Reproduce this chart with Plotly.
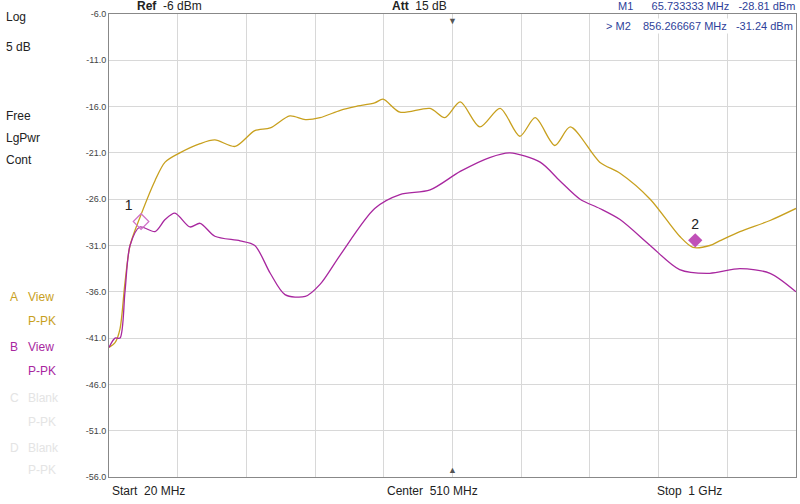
import plotly.graph_objects as go

# frequencies in MHz, levels in dBm
freq_a = [20, 28.6, 35.7, 42.8, 50, 64, 85.6, 100, 121, 150, 171, 200, 228, 250, 278, 300, 321, 350, 371,
          399, 411, 435, 478, 499, 521, 549, 578, 606, 628, 656, 678, 720, 749, 792, 834, 853, 877, 891, 920, 963, 1000]
level_a = [-42, -41.5, -40, -35, -31, -28, -24, -22, -21, -20, -19.6, -20.3, -18.6, -18.3, -17, -17.4, -17.2,
           -16.4, -16, -15.6, -15.2, -16.6, -16.2, -17.2, -15.5, -18.2, -16.2, -19.2, -17.2, -20.2, -18.2,
           -22, -23.2, -26, -30, -31.2, -31, -30.5, -29.5, -28.3, -27]
freq_b = [20, 28.6, 35.7, 42.8, 50, 64, 85.6, 100, 114, 135.5, 150, 171, 207, 228, 250, 271, 300, 321, 350,
          399, 435, 478, 521, 563, 592, 635, 663, 692, 720, 749, 792, 834, 877, 920, 963, 1000]
level_b = [-42, -41, -41, -36, -31, -29, -29.5, -28.2, -27.5, -29, -28.6, -30, -30.5, -31, -34, -36.3, -36.5,
           -35.2, -32, -27, -25.5, -25, -23, -21.5, -21, -22, -24, -26, -27, -28.2, -31, -33.6, -34, -33.5,
           -34, -36]
m1 = (65.733333, -28.81)
m2 = (856.266667, -31.24)
y_ticks = [-6 - 5 * i for i in range(11)]

yel = "#c8a01e"
mag = "#a8279f"
W, H = 800, 504
PW, PH, L, T = 687, 463, 109, 14

fig = go.Figure()
fig.add_trace(go.Scatter(x=freq_a, y=level_a, mode="lines", line=dict(color=yel, width=1.3, shape="spline", smoothing=0.8)))
fig.add_trace(go.Scatter(x=freq_b, y=level_b, mode="lines", line=dict(color=mag, width=1.3, shape="spline", smoothing=0.8)))
fig.add_trace(go.Scatter(x=[m1[0]], y=[m1[1] + 0.4], mode="markers+text", text=["1"], textposition="top left",
                         textfont=dict(size=14, color="#222"),
                         marker=dict(symbol="diamond-open", size=12, color="#d070c8", line=dict(width=1.2))))
fig.add_trace(go.Scatter(x=[m2[0]], y=[m2[1] + 0.8], mode="markers+text", text=["2"], textposition="top center",
                         textfont=dict(size=14, color="#222"),
                         marker=dict(symbol="diamond", size=11, color="#c050b8")))

fig.update_layout(
    width=W, height=H, showlegend=False, paper_bgcolor="white", plot_bgcolor="white",
    margin=dict(l=L, r=W - L - PW, t=T, b=H - T - PH, autoexpand=False),
    font=dict(family="Liberation Sans", size=12, color="#222"),
    xaxis=dict(range=[20, 1000], tickvals=[20 + 98 * i for i in range(11)], showticklabels=False,
               showgrid=True, gridcolor="#d8d8d8", zeroline=False, showline=True, linecolor="#888", mirror=True),
    yaxis=dict(range=[-56, -6], tickvals=y_ticks, ticktext=[f"{v:.1f}" for v in y_ticks],
               tickfont=dict(size=9, color="#444"), showgrid=True, gridcolor="#d8d8d8", zeroline=False,
               showline=True, linecolor="#888", mirror=True),
)

def px(x):
    return (x - L) / PW

def py(y):
    return 1 - (y - T) / PH

left = [("Log", 17), ("5 dB", 47), ("Free", 116), ("LgPwr", 138), ("Cont", 160)]
for txt, y in left:
    fig.add_annotation(text=txt, x=px(4), y=py(y), xref="paper", yref="paper", xanchor="left", yanchor="middle",
                       showarrow=False, font=dict(size=12, color="#222"))
side = [("A", "View", 297, yel), ("", "P-PK", 321, yel), ("B", "View", 347, mag),
        ("", "P-PK", 371, mag), ("C", "Blank", 398, "#e4e4e4"), ("", "P-PK", 422, "#e4e4e4"),
        ("D", "Blank", 448, "#e4e4e4"), ("", "P-PK", 470, "#e4e4e4")]
for letter, txt, y, c in side:
    if letter:
        fig.add_annotation(text=letter, x=px(8), y=py(y), xref="paper", yref="paper", xanchor="left",
                           yanchor="middle", showarrow=False, font=dict(size=12, color=c))
    fig.add_annotation(text=txt, x=px(26), y=py(y), xref="paper", yref="paper", xanchor="left",
                       yanchor="middle", showarrow=False, font=dict(size=12, color=c))

fig.add_annotation(text="<b>Ref</b>  -6 dBm", x=px(135), y=py(6), xref="paper", yref="paper", xanchor="left",
                   yanchor="middle", showarrow=False)
fig.add_annotation(text="<b>Att</b>  15 dB", x=px(390), y=py(6), xref="paper", yref="paper", xanchor="left",
                   yanchor="middle", showarrow=False)
blue = "#2e3f9a"
fig.add_annotation(text="M1      65.733333 MHz   -28.81 dBm", x=px(797), y=py(6), xref="paper", yref="paper",
                   xanchor="right", yanchor="middle", showarrow=False, font=dict(size=11, color=blue))
fig.add_annotation(text="> M2    856.266667 MHz   -31.24 dBm", x=px(795), y=py(26), xref="paper", yref="paper",
                   xanchor="right", yanchor="middle", showarrow=False, font=dict(size=11, color=blue),
                   bgcolor="white")

bottom = [("Start  20 MHz", px(110)), ("Center  510 MHz", px(385)), ("Stop  1 GHz", px(655))]
for txt, x in bottom:
    fig.add_annotation(text=txt, x=x, y=py(491), xref="paper", yref="paper", xanchor="left", yanchor="middle",
                       showarrow=False, font=dict(size=12, color="#222"))

fig.add_annotation(text="▼", x=0.5, y=1, xref="paper", yref="paper", yanchor="top", showarrow=False,
                   font=dict(size=9, color="#555"))
fig.add_annotation(text="▲", x=0.5, y=0, xref="paper", yref="paper", yanchor="bottom", showarrow=False,
                   font=dict(size=9, color="#555"))

# drop the page's default body margin so the figure sits at the window corner
fig.write_html("out.html", config={"displayModeBar": False},
               post_script="document.body.style.margin='0';")
